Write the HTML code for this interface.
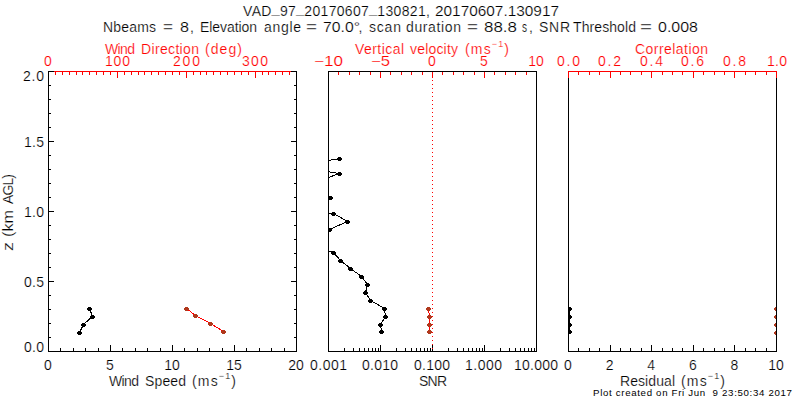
<!DOCTYPE html><html><head><meta charset="utf-8"><style>html,body{margin:0;padding:0;background:#fff;overflow:hidden}svg{display:block}text{font-family:"Liberation Sans",sans-serif;stroke:#fff;stroke-width:0.2px}</style></head><body><svg width="800" height="400" viewBox="0 0 800 400"><rect width="800" height="400" fill="#fff"/>
<text x="243" y="16" font-size="14" fill="#000" textLength="187.00" lengthAdjust="spacing">VAD<tspan dy="-3">_</tspan><tspan dy="3">97</tspan><tspan dy="-3">_</tspan><tspan dy="3">20170607</tspan><tspan dy="-3">_</tspan><tspan dy="3">130821,</tspan></text>
<text x="435" y="16" font-size="14" fill="#000" textLength="124.00" lengthAdjust="spacingAndGlyphs">20170607.130917</text>
<text x="190" y="32" font-size="14" text-anchor="start" fill="#000">,</text>
<text x="358.5" y="32" font-size="14" text-anchor="start" fill="#000">,</text>
<text x="529" y="32" font-size="14" text-anchor="start" fill="#000">,</text>
<text x="103" y="32" font-size="14" fill="#000" textLength="53.00" lengthAdjust="spacing">Nbeams</text>
<text x="163" y="32" font-size="14" fill="#000" textLength="10.00" lengthAdjust="spacingAndGlyphs">=</text>
<text x="180" y="32" font-size="14" fill="#000" textLength="9.00" lengthAdjust="spacingAndGlyphs">8</text>
<text x="200" y="32" font-size="14" fill="#000" textLength="57.00" lengthAdjust="spacing">Elevation</text>
<text x="264" y="32" font-size="14" fill="#000" textLength="37.00" lengthAdjust="spacing">angle</text>
<text x="306" y="32" font-size="14" fill="#000" textLength="11.00" lengthAdjust="spacingAndGlyphs">=</text>
<text x="323" y="32" font-size="14" fill="#000" textLength="37.00" lengthAdjust="spacingAndGlyphs">70.0°</text>
<text x="369" y="32" font-size="14" fill="#000" textLength="32.00" lengthAdjust="spacing">scan</text>
<text x="406" y="32" font-size="14" fill="#000" textLength="55.00" lengthAdjust="spacing">duration</text>
<text x="467" y="32" font-size="14" fill="#000" textLength="11.00" lengthAdjust="spacingAndGlyphs">=</text>
<text x="484" y="32" font-size="14" fill="#000" textLength="33.00" lengthAdjust="spacingAndGlyphs">88.8</text>
<text x="522" y="32" font-size="14" fill="#000" textLength="5.00" lengthAdjust="spacingAndGlyphs">s</text>
<text x="539" y="32" font-size="14" fill="#000" textLength="31.00" lengthAdjust="spacing">SNR</text>
<text x="573" y="32" font-size="14" fill="#000" textLength="63.00" lengthAdjust="spacing">Threshold</text>
<text x="640" y="32" font-size="14" fill="#000" textLength="12.00" lengthAdjust="spacingAndGlyphs">=</text>
<text x="658" y="32" font-size="14" fill="#000" textLength="40.00" lengthAdjust="spacingAndGlyphs">0.008</text>
<rect x="48" y="71" width="249" height="1" fill="#000"/>
<rect x="48" y="351" width="249" height="1" fill="#000"/>
<rect x="48" y="71" width="1" height="281" fill="#000"/>
<rect x="296" y="71" width="1" height="281" fill="#000"/>
<rect x="54" y="71" width="237" height="1" fill="#ff0000"/>
<rect x="55" y="71" width="1" height="4" fill="#ff0000"/>
<rect x="62" y="71" width="1" height="4" fill="#ff0000"/>
<rect x="69" y="71" width="1" height="4" fill="#ff0000"/>
<rect x="76" y="71" width="1" height="4" fill="#ff0000"/>
<rect x="82" y="71" width="1" height="4" fill="#ff0000"/>
<rect x="89" y="71" width="1" height="4" fill="#ff0000"/>
<rect x="96" y="71" width="1" height="4" fill="#ff0000"/>
<rect x="103" y="71" width="1" height="4" fill="#ff0000"/>
<rect x="110" y="71" width="1" height="4" fill="#ff0000"/>
<rect x="117" y="71" width="1" height="7" fill="#ff0000"/>
<rect x="124" y="71" width="1" height="4" fill="#ff0000"/>
<rect x="131" y="71" width="1" height="4" fill="#ff0000"/>
<rect x="138" y="71" width="1" height="4" fill="#ff0000"/>
<rect x="144" y="71" width="1" height="4" fill="#ff0000"/>
<rect x="151" y="71" width="1" height="4" fill="#ff0000"/>
<rect x="158" y="71" width="1" height="4" fill="#ff0000"/>
<rect x="165" y="71" width="1" height="4" fill="#ff0000"/>
<rect x="172" y="71" width="1" height="4" fill="#ff0000"/>
<rect x="179" y="71" width="1" height="4" fill="#ff0000"/>
<rect x="186" y="71" width="1" height="7" fill="#ff0000"/>
<rect x="193" y="71" width="1" height="4" fill="#ff0000"/>
<rect x="200" y="71" width="1" height="4" fill="#ff0000"/>
<rect x="206" y="71" width="1" height="4" fill="#ff0000"/>
<rect x="213" y="71" width="1" height="4" fill="#ff0000"/>
<rect x="220" y="71" width="1" height="4" fill="#ff0000"/>
<rect x="227" y="71" width="1" height="4" fill="#ff0000"/>
<rect x="234" y="71" width="1" height="4" fill="#ff0000"/>
<rect x="241" y="71" width="1" height="4" fill="#ff0000"/>
<rect x="248" y="71" width="1" height="4" fill="#ff0000"/>
<rect x="255" y="71" width="1" height="7" fill="#ff0000"/>
<rect x="262" y="71" width="1" height="4" fill="#ff0000"/>
<rect x="268" y="71" width="1" height="4" fill="#ff0000"/>
<rect x="275" y="71" width="1" height="4" fill="#ff0000"/>
<rect x="282" y="71" width="1" height="4" fill="#ff0000"/>
<rect x="289" y="71" width="1" height="4" fill="#ff0000"/>
<rect x="48" y="337" width="3" height="1" fill="#000"/>
<rect x="294" y="337" width="3" height="1" fill="#000"/>
<rect x="48" y="323" width="3" height="1" fill="#000"/>
<rect x="294" y="323" width="3" height="1" fill="#000"/>
<rect x="48" y="309" width="3" height="1" fill="#000"/>
<rect x="294" y="309" width="3" height="1" fill="#000"/>
<rect x="48" y="295" width="3" height="1" fill="#000"/>
<rect x="294" y="295" width="3" height="1" fill="#000"/>
<rect x="48" y="281" width="6" height="1" fill="#000"/>
<rect x="291" y="281" width="6" height="1" fill="#000"/>
<rect x="48" y="267" width="3" height="1" fill="#000"/>
<rect x="294" y="267" width="3" height="1" fill="#000"/>
<rect x="48" y="253" width="3" height="1" fill="#000"/>
<rect x="294" y="253" width="3" height="1" fill="#000"/>
<rect x="48" y="239" width="3" height="1" fill="#000"/>
<rect x="294" y="239" width="3" height="1" fill="#000"/>
<rect x="48" y="225" width="3" height="1" fill="#000"/>
<rect x="294" y="225" width="3" height="1" fill="#000"/>
<rect x="48" y="211" width="6" height="1" fill="#000"/>
<rect x="291" y="211" width="6" height="1" fill="#000"/>
<rect x="48" y="197" width="3" height="1" fill="#000"/>
<rect x="294" y="197" width="3" height="1" fill="#000"/>
<rect x="48" y="183" width="3" height="1" fill="#000"/>
<rect x="294" y="183" width="3" height="1" fill="#000"/>
<rect x="48" y="169" width="3" height="1" fill="#000"/>
<rect x="294" y="169" width="3" height="1" fill="#000"/>
<rect x="48" y="155" width="3" height="1" fill="#000"/>
<rect x="294" y="155" width="3" height="1" fill="#000"/>
<rect x="48" y="141" width="6" height="1" fill="#000"/>
<rect x="291" y="141" width="6" height="1" fill="#000"/>
<rect x="48" y="127" width="3" height="1" fill="#000"/>
<rect x="294" y="127" width="3" height="1" fill="#000"/>
<rect x="48" y="113" width="3" height="1" fill="#000"/>
<rect x="294" y="113" width="3" height="1" fill="#000"/>
<rect x="48" y="99" width="3" height="1" fill="#000"/>
<rect x="294" y="99" width="3" height="1" fill="#000"/>
<rect x="48" y="85" width="3" height="1" fill="#000"/>
<rect x="294" y="85" width="3" height="1" fill="#000"/>
<rect x="60" y="348" width="1" height="4" fill="#000"/>
<rect x="73" y="348" width="1" height="4" fill="#000"/>
<rect x="85" y="348" width="1" height="4" fill="#000"/>
<rect x="98" y="348" width="1" height="4" fill="#000"/>
<rect x="110" y="345" width="1" height="7" fill="#000"/>
<rect x="122" y="348" width="1" height="4" fill="#000"/>
<rect x="135" y="348" width="1" height="4" fill="#000"/>
<rect x="147" y="348" width="1" height="4" fill="#000"/>
<rect x="160" y="348" width="1" height="4" fill="#000"/>
<rect x="172" y="345" width="1" height="7" fill="#000"/>
<rect x="184" y="348" width="1" height="4" fill="#000"/>
<rect x="197" y="348" width="1" height="4" fill="#000"/>
<rect x="209" y="348" width="1" height="4" fill="#000"/>
<rect x="222" y="348" width="1" height="4" fill="#000"/>
<rect x="234" y="345" width="1" height="7" fill="#000"/>
<rect x="246" y="348" width="1" height="4" fill="#000"/>
<rect x="259" y="348" width="1" height="4" fill="#000"/>
<rect x="271" y="348" width="1" height="4" fill="#000"/>
<rect x="284" y="348" width="1" height="4" fill="#000"/>
<text x="48" y="66" font-size="14" text-anchor="middle" fill="#ff0000">0</text>
<text x="105" y="66" font-size="14" fill="#ff0000" textLength="25.00" lengthAdjust="spacing">100</text>
<text x="173" y="66" font-size="14" fill="#ff0000" textLength="27.00" lengthAdjust="spacing">200</text>
<text x="242" y="66" font-size="14" fill="#ff0000" textLength="26.00" lengthAdjust="spacing">300</text>
<text x="105" y="54" font-size="14" fill="#ff0000" textLength="30.00" lengthAdjust="spacing">Wind</text>
<text x="141" y="54" font-size="14" fill="#ff0000" textLength="58.00" lengthAdjust="spacing">Direction</text>
<text x="205" y="54" font-size="14" fill="#ff0000" textLength="37.00" lengthAdjust="spacing">(deg)</text>
<text x="48" y="370" font-size="14" text-anchor="middle" fill="#000">0</text>
<text x="110" y="370" font-size="14" text-anchor="middle" fill="#000">5</text>
<text x="172" y="370" font-size="14" text-anchor="middle" fill="#000">10</text>
<text x="234" y="370" font-size="14" text-anchor="middle" fill="#000">15</text>
<text x="296" y="370" font-size="14" text-anchor="middle" fill="#000">20</text>
<text x="109" y="386" font-size="14" fill="#000" textLength="30.00" lengthAdjust="spacing">Wind</text>
<text x="145" y="386" font-size="14" fill="#000" textLength="41.00" lengthAdjust="spacing">Speed</text>
<text x="192" y="386" font-size="14" fill="#000" textLength="44.00" lengthAdjust="spacing">(ms<tspan font-size="9" dy="-7">−1</tspan><tspan dy="7">)</tspan></text>
<text x="24" y="352" font-size="14" fill="#000" textLength="20.00" lengthAdjust="spacing">0.0</text>
<text x="24" y="287" font-size="14" fill="#000" textLength="20.00" lengthAdjust="spacing">0.5</text>
<text x="24" y="217" font-size="14" fill="#000" textLength="20.00" lengthAdjust="spacing">1.0</text>
<text x="24" y="147" font-size="14" fill="#000" textLength="20.00" lengthAdjust="spacing">1.5</text>
<text x="23" y="81" font-size="14" fill="#000" textLength="21.00" lengthAdjust="spacing">2.0</text>
<text transform="translate(13,251) rotate(-90)" font-size="14" textLength="9.00" lengthAdjust="spacingAndGlyphs">z</text>
<text transform="translate(13,237) rotate(-90)" font-size="14" textLength="27.00" lengthAdjust="spacingAndGlyphs">(km</text>
<text transform="translate(13,204) rotate(-90)" font-size="14" textLength="30.00" lengthAdjust="spacing">AGL)</text>
<rect x="328" y="71" width="209" height="1" fill="#000"/>
<rect x="328" y="351" width="209" height="1" fill="#000"/>
<rect x="328" y="71" width="1" height="281" fill="#000"/>
<rect x="536" y="71" width="1" height="281" fill="#000"/>
<rect x="338" y="72" width="1" height="3" fill="#ff0000"/>
<rect x="349" y="72" width="1" height="3" fill="#ff0000"/>
<rect x="359" y="72" width="1" height="3" fill="#ff0000"/>
<rect x="370" y="72" width="1" height="3" fill="#ff0000"/>
<rect x="380" y="72" width="1" height="6" fill="#ff0000"/>
<rect x="390" y="72" width="1" height="3" fill="#ff0000"/>
<rect x="401" y="72" width="1" height="3" fill="#ff0000"/>
<rect x="411" y="72" width="1" height="3" fill="#ff0000"/>
<rect x="422" y="72" width="1" height="3" fill="#ff0000"/>
<rect x="432" y="72" width="1" height="6" fill="#ff0000"/>
<rect x="442" y="72" width="1" height="3" fill="#ff0000"/>
<rect x="453" y="72" width="1" height="3" fill="#ff0000"/>
<rect x="463" y="72" width="1" height="3" fill="#ff0000"/>
<rect x="474" y="72" width="1" height="3" fill="#ff0000"/>
<rect x="484" y="72" width="1" height="6" fill="#ff0000"/>
<rect x="494" y="72" width="1" height="3" fill="#ff0000"/>
<rect x="505" y="72" width="1" height="3" fill="#ff0000"/>
<rect x="515" y="72" width="1" height="3" fill="#ff0000"/>
<rect x="526" y="72" width="1" height="3" fill="#ff0000"/>
<rect x="344" y="348" width="1" height="4" fill="#000"/>
<rect x="353" y="348" width="1" height="4" fill="#000"/>
<rect x="359" y="348" width="1" height="4" fill="#000"/>
<rect x="364" y="348" width="1" height="4" fill="#000"/>
<rect x="368" y="348" width="1" height="4" fill="#000"/>
<rect x="372" y="348" width="1" height="4" fill="#000"/>
<rect x="375" y="348" width="1" height="4" fill="#000"/>
<rect x="378" y="348" width="1" height="4" fill="#000"/>
<rect x="380" y="345" width="1" height="7" fill="#000"/>
<rect x="396" y="348" width="1" height="4" fill="#000"/>
<rect x="405" y="348" width="1" height="4" fill="#000"/>
<rect x="411" y="348" width="1" height="4" fill="#000"/>
<rect x="416" y="348" width="1" height="4" fill="#000"/>
<rect x="420" y="348" width="1" height="4" fill="#000"/>
<rect x="424" y="348" width="1" height="4" fill="#000"/>
<rect x="427" y="348" width="1" height="4" fill="#000"/>
<rect x="430" y="348" width="1" height="4" fill="#000"/>
<rect x="432" y="345" width="1" height="7" fill="#000"/>
<rect x="448" y="348" width="1" height="4" fill="#000"/>
<rect x="457" y="348" width="1" height="4" fill="#000"/>
<rect x="463" y="348" width="1" height="4" fill="#000"/>
<rect x="468" y="348" width="1" height="4" fill="#000"/>
<rect x="472" y="348" width="1" height="4" fill="#000"/>
<rect x="476" y="348" width="1" height="4" fill="#000"/>
<rect x="479" y="348" width="1" height="4" fill="#000"/>
<rect x="482" y="348" width="1" height="4" fill="#000"/>
<rect x="484" y="345" width="1" height="7" fill="#000"/>
<rect x="500" y="348" width="1" height="4" fill="#000"/>
<rect x="509" y="348" width="1" height="4" fill="#000"/>
<rect x="515" y="348" width="1" height="4" fill="#000"/>
<rect x="520" y="348" width="1" height="4" fill="#000"/>
<rect x="524" y="348" width="1" height="4" fill="#000"/>
<rect x="528" y="348" width="1" height="4" fill="#000"/>
<rect x="531" y="348" width="1" height="4" fill="#000"/>
<rect x="534" y="348" width="1" height="4" fill="#000"/>
<text x="314" y="66" font-size="14" fill="#ff0000" textLength="29.00" lengthAdjust="spacingAndGlyphs">−10</text>
<text x="371" y="66" font-size="14" fill="#ff0000" textLength="19.00" lengthAdjust="spacingAndGlyphs">−5</text>
<text x="432" y="66" font-size="14" text-anchor="middle" fill="#ff0000">0</text>
<text x="484" y="66" font-size="14" text-anchor="middle" fill="#ff0000">5</text>
<text x="536" y="66" font-size="14" text-anchor="middle" fill="#ff0000">10</text>
<text x="355" y="54" font-size="14" fill="#ff0000" textLength="49.00" lengthAdjust="spacing">Vertical</text>
<text x="410" y="54" font-size="14" fill="#ff0000" textLength="48.00" lengthAdjust="spacing">velocity</text>
<text x="465" y="54" font-size="14" fill="#ff0000" textLength="44.00" lengthAdjust="spacing">(ms<tspan font-size="9" dy="-7">−1</tspan><tspan dy="7">)</tspan></text>
<text x="310" y="370" font-size="14" fill="#000" textLength="37.00" lengthAdjust="spacing">0.001</text>
<text x="362" y="370" font-size="14" fill="#000" textLength="36.00" lengthAdjust="spacing">0.010</text>
<text x="414" y="370" font-size="14" fill="#000" textLength="36.00" lengthAdjust="spacing">0.100</text>
<text x="465" y="370" font-size="14" fill="#000" textLength="37.00" lengthAdjust="spacing">1.000</text>
<text x="514" y="370" font-size="14" fill="#000" textLength="44.00" lengthAdjust="spacing">10.000</text>
<text x="419" y="386" font-size="14" fill="#000" textLength="28.00" lengthAdjust="spacing">SNR</text>
<rect x="432" y="72" width="1" height="1" fill="#ff0000"/>
<rect x="432" y="76" width="1" height="1" fill="#ff0000"/>
<rect x="432" y="80" width="1" height="1" fill="#ff0000"/>
<rect x="432" y="84" width="1" height="1" fill="#ff0000"/>
<rect x="432" y="88" width="1" height="1" fill="#ff0000"/>
<rect x="432" y="92" width="1" height="1" fill="#ff0000"/>
<rect x="432" y="96" width="1" height="1" fill="#ff0000"/>
<rect x="432" y="100" width="1" height="1" fill="#ff0000"/>
<rect x="432" y="104" width="1" height="1" fill="#ff0000"/>
<rect x="432" y="108" width="1" height="1" fill="#ff0000"/>
<rect x="432" y="112" width="1" height="1" fill="#ff0000"/>
<rect x="432" y="116" width="1" height="1" fill="#ff0000"/>
<rect x="432" y="120" width="1" height="1" fill="#ff0000"/>
<rect x="432" y="124" width="1" height="1" fill="#ff0000"/>
<rect x="432" y="128" width="1" height="1" fill="#ff0000"/>
<rect x="432" y="132" width="1" height="1" fill="#ff0000"/>
<rect x="432" y="136" width="1" height="1" fill="#ff0000"/>
<rect x="432" y="140" width="1" height="1" fill="#ff0000"/>
<rect x="432" y="144" width="1" height="1" fill="#ff0000"/>
<rect x="432" y="148" width="1" height="1" fill="#ff0000"/>
<rect x="432" y="152" width="1" height="1" fill="#ff0000"/>
<rect x="432" y="156" width="1" height="1" fill="#ff0000"/>
<rect x="432" y="160" width="1" height="1" fill="#ff0000"/>
<rect x="432" y="164" width="1" height="1" fill="#ff0000"/>
<rect x="432" y="168" width="1" height="1" fill="#ff0000"/>
<rect x="432" y="172" width="1" height="1" fill="#ff0000"/>
<rect x="432" y="176" width="1" height="1" fill="#ff0000"/>
<rect x="432" y="180" width="1" height="1" fill="#ff0000"/>
<rect x="432" y="184" width="1" height="1" fill="#ff0000"/>
<rect x="432" y="188" width="1" height="1" fill="#ff0000"/>
<rect x="432" y="192" width="1" height="1" fill="#ff0000"/>
<rect x="432" y="196" width="1" height="1" fill="#ff0000"/>
<rect x="432" y="200" width="1" height="1" fill="#ff0000"/>
<rect x="432" y="204" width="1" height="1" fill="#ff0000"/>
<rect x="432" y="208" width="1" height="1" fill="#ff0000"/>
<rect x="432" y="212" width="1" height="1" fill="#ff0000"/>
<rect x="432" y="216" width="1" height="1" fill="#ff0000"/>
<rect x="432" y="220" width="1" height="1" fill="#ff0000"/>
<rect x="432" y="224" width="1" height="1" fill="#ff0000"/>
<rect x="432" y="228" width="1" height="1" fill="#ff0000"/>
<rect x="432" y="232" width="1" height="1" fill="#ff0000"/>
<rect x="432" y="236" width="1" height="1" fill="#ff0000"/>
<rect x="432" y="240" width="1" height="1" fill="#ff0000"/>
<rect x="432" y="244" width="1" height="1" fill="#ff0000"/>
<rect x="432" y="248" width="1" height="1" fill="#ff0000"/>
<rect x="432" y="252" width="1" height="1" fill="#ff0000"/>
<rect x="432" y="256" width="1" height="1" fill="#ff0000"/>
<rect x="432" y="260" width="1" height="1" fill="#ff0000"/>
<rect x="432" y="264" width="1" height="1" fill="#ff0000"/>
<rect x="432" y="268" width="1" height="1" fill="#ff0000"/>
<rect x="432" y="272" width="1" height="1" fill="#ff0000"/>
<rect x="432" y="276" width="1" height="1" fill="#ff0000"/>
<rect x="432" y="280" width="1" height="1" fill="#ff0000"/>
<rect x="432" y="284" width="1" height="1" fill="#ff0000"/>
<rect x="432" y="288" width="1" height="1" fill="#ff0000"/>
<rect x="432" y="292" width="1" height="1" fill="#ff0000"/>
<rect x="432" y="296" width="1" height="1" fill="#ff0000"/>
<rect x="432" y="300" width="1" height="1" fill="#ff0000"/>
<rect x="432" y="304" width="1" height="1" fill="#ff0000"/>
<rect x="432" y="308" width="1" height="1" fill="#ff0000"/>
<rect x="432" y="312" width="1" height="1" fill="#ff0000"/>
<rect x="432" y="316" width="1" height="1" fill="#ff0000"/>
<rect x="432" y="320" width="1" height="1" fill="#ff0000"/>
<rect x="432" y="324" width="1" height="1" fill="#ff0000"/>
<rect x="432" y="328" width="1" height="1" fill="#ff0000"/>
<rect x="432" y="332" width="1" height="1" fill="#ff0000"/>
<rect x="432" y="336" width="1" height="1" fill="#ff0000"/>
<rect x="432" y="340" width="1" height="1" fill="#ff0000"/>
<rect x="432" y="344" width="1" height="1" fill="#ff0000"/>
<rect x="432" y="348" width="1" height="1" fill="#ff0000"/>
<rect x="568" y="71" width="209" height="1" fill="#000"/>
<rect x="568" y="351" width="209" height="1" fill="#000"/>
<rect x="568" y="71" width="1" height="281" fill="#000"/>
<rect x="776" y="71" width="1" height="281" fill="#000"/>
<rect x="568" y="71" width="209" height="1" fill="#ff0000"/>
<rect x="568" y="71" width="1" height="7" fill="#ff0000"/>
<rect x="578" y="71" width="1" height="4" fill="#ff0000"/>
<rect x="589" y="71" width="1" height="4" fill="#ff0000"/>
<rect x="599" y="71" width="1" height="4" fill="#ff0000"/>
<rect x="610" y="71" width="1" height="7" fill="#ff0000"/>
<rect x="620" y="71" width="1" height="4" fill="#ff0000"/>
<rect x="630" y="71" width="1" height="4" fill="#ff0000"/>
<rect x="641" y="71" width="1" height="4" fill="#ff0000"/>
<rect x="651" y="71" width="1" height="7" fill="#ff0000"/>
<rect x="662" y="71" width="1" height="4" fill="#ff0000"/>
<rect x="672" y="71" width="1" height="4" fill="#ff0000"/>
<rect x="682" y="71" width="1" height="4" fill="#ff0000"/>
<rect x="693" y="71" width="1" height="7" fill="#ff0000"/>
<rect x="703" y="71" width="1" height="4" fill="#ff0000"/>
<rect x="714" y="71" width="1" height="4" fill="#ff0000"/>
<rect x="724" y="71" width="1" height="4" fill="#ff0000"/>
<rect x="734" y="71" width="1" height="7" fill="#ff0000"/>
<rect x="745" y="71" width="1" height="4" fill="#ff0000"/>
<rect x="755" y="71" width="1" height="4" fill="#ff0000"/>
<rect x="766" y="71" width="1" height="4" fill="#ff0000"/>
<rect x="776" y="71" width="1" height="7" fill="#ff0000"/>
<rect x="578" y="348" width="1" height="4" fill="#000"/>
<rect x="589" y="348" width="1" height="4" fill="#000"/>
<rect x="599" y="348" width="1" height="4" fill="#000"/>
<rect x="610" y="345" width="1" height="7" fill="#000"/>
<rect x="620" y="348" width="1" height="4" fill="#000"/>
<rect x="630" y="348" width="1" height="4" fill="#000"/>
<rect x="641" y="348" width="1" height="4" fill="#000"/>
<rect x="651" y="345" width="1" height="7" fill="#000"/>
<rect x="662" y="348" width="1" height="4" fill="#000"/>
<rect x="672" y="348" width="1" height="4" fill="#000"/>
<rect x="682" y="348" width="1" height="4" fill="#000"/>
<rect x="693" y="345" width="1" height="7" fill="#000"/>
<rect x="703" y="348" width="1" height="4" fill="#000"/>
<rect x="714" y="348" width="1" height="4" fill="#000"/>
<rect x="724" y="348" width="1" height="4" fill="#000"/>
<rect x="734" y="345" width="1" height="7" fill="#000"/>
<rect x="745" y="348" width="1" height="4" fill="#000"/>
<rect x="755" y="348" width="1" height="4" fill="#000"/>
<rect x="766" y="348" width="1" height="4" fill="#000"/>
<text x="557" y="66" font-size="14" fill="#ff0000" textLength="23.00" lengthAdjust="spacing">0.0</text>
<text x="598" y="66" font-size="14" fill="#ff0000" textLength="23.00" lengthAdjust="spacing">0.2</text>
<text x="640" y="66" font-size="14" fill="#ff0000" textLength="23.00" lengthAdjust="spacing">0.4</text>
<text x="681" y="66" font-size="14" fill="#ff0000" textLength="23.00" lengthAdjust="spacing">0.6</text>
<text x="723" y="66" font-size="14" fill="#ff0000" textLength="23.00" lengthAdjust="spacing">0.8</text>
<text x="767" y="66" font-size="14" fill="#ff0000" textLength="20.00" lengthAdjust="spacing">1.0</text>
<text x="635" y="54" font-size="14" fill="#ff0000" textLength="73.00" lengthAdjust="spacing">Correlation</text>
<text x="568.0" y="370" font-size="14" text-anchor="middle" fill="#000">0</text>
<text x="609.6" y="370" font-size="14" text-anchor="middle" fill="#000">2</text>
<text x="651.2" y="370" font-size="14" text-anchor="middle" fill="#000">4</text>
<text x="692.8" y="370" font-size="14" text-anchor="middle" fill="#000">6</text>
<text x="734.4" y="370" font-size="14" text-anchor="middle" fill="#000">8</text>
<text x="776.0" y="370" font-size="14" text-anchor="middle" fill="#000">10</text>
<text x="620" y="386" font-size="14" fill="#000" textLength="55.00" lengthAdjust="spacing">Residual</text>
<text x="681" y="386" font-size="14" fill="#000" textLength="44.00" lengthAdjust="spacing">(ms<tspan font-size="9" dy="-7">−1</tspan><tspan dy="7">)</tspan></text>
<text x="593" y="396" font-size="9.7" fill="#000" textLength="199.00" lengthAdjust="spacing" style="stroke-width:0">Plot created on Fri Jun&#160;&#160;9 23:50:34 2017</text>
<polyline points="89.5,308.5 92.5,316.5 83.5,324.5 79.5,332.5" fill="none" stroke="#000" stroke-width="1" shape-rendering="crispEdges"/>
<rect x="88" y="307" width="3" height="1" fill="#000"/>
<rect x="87" y="308" width="5" height="2" fill="#000"/>
<rect x="88" y="310" width="3" height="1" fill="#000"/>
<rect x="91" y="315" width="3" height="1" fill="#000"/>
<rect x="90" y="316" width="5" height="2" fill="#000"/>
<rect x="91" y="318" width="3" height="1" fill="#000"/>
<rect x="82" y="323" width="3" height="1" fill="#000"/>
<rect x="81" y="324" width="5" height="2" fill="#000"/>
<rect x="82" y="326" width="3" height="1" fill="#000"/>
<rect x="78" y="331" width="3" height="1" fill="#000"/>
<rect x="77" y="332" width="5" height="2" fill="#000"/>
<rect x="78" y="334" width="3" height="1" fill="#000"/>
<polyline points="186.5,308.5 195.5,315.5 210.5,323.5 223.5,331.5" fill="none" stroke="#ff0000" stroke-width="1" shape-rendering="crispEdges"/>
<rect x="185" y="307" width="3" height="1" fill="#b0381c"/>
<rect x="184" y="308" width="5" height="2" fill="#b0381c"/>
<rect x="185" y="310" width="3" height="1" fill="#b0381c"/>
<rect x="194" y="314" width="3" height="1" fill="#b0381c"/>
<rect x="193" y="315" width="5" height="2" fill="#b0381c"/>
<rect x="194" y="317" width="3" height="1" fill="#b0381c"/>
<rect x="209" y="322" width="3" height="1" fill="#b0381c"/>
<rect x="208" y="323" width="5" height="2" fill="#b0381c"/>
<rect x="209" y="325" width="3" height="1" fill="#b0381c"/>
<rect x="222" y="330" width="3" height="1" fill="#b0381c"/>
<rect x="221" y="331" width="5" height="2" fill="#b0381c"/>
<rect x="222" y="333" width="3" height="1" fill="#b0381c"/>
<defs><clipPath id="c2"><rect x="328" y="71" width="209" height="281"/></clipPath><clipPath id="c3"><rect x="568" y="71" width="209" height="281"/></clipPath></defs>
<g clip-path="url(#c2)">
<polyline points="339.5,158.5 295.5,166.5 339.5,173.5 317.5,181.5 260.5,189.5 330.5,197.5 260.5,205.5 333.5,213.5 347.5,221.5 329.5,229.5 260.5,237.5 313.5,245.5 333.5,252.5 340.5,260.5 350.5,268.5 361.5,276.5 367.5,284.5 365.5,292.5 370.5,300.5 384.5,308.5 385.5,316.5 380.5,324.5 381.5,331.5" fill="none" stroke="#000" stroke-width="1" shape-rendering="crispEdges"/>
<rect x="338" y="157" width="3" height="1" fill="#000"/>
<rect x="337" y="158" width="5" height="2" fill="#000"/>
<rect x="338" y="160" width="3" height="1" fill="#000"/>
<rect x="294" y="165" width="3" height="1" fill="#000"/>
<rect x="293" y="166" width="5" height="2" fill="#000"/>
<rect x="294" y="168" width="3" height="1" fill="#000"/>
<rect x="338" y="172" width="3" height="1" fill="#000"/>
<rect x="337" y="173" width="5" height="2" fill="#000"/>
<rect x="338" y="175" width="3" height="1" fill="#000"/>
<rect x="316" y="180" width="3" height="1" fill="#000"/>
<rect x="315" y="181" width="5" height="2" fill="#000"/>
<rect x="316" y="183" width="3" height="1" fill="#000"/>
<rect x="259" y="188" width="3" height="1" fill="#000"/>
<rect x="258" y="189" width="5" height="2" fill="#000"/>
<rect x="259" y="191" width="3" height="1" fill="#000"/>
<rect x="329" y="196" width="3" height="1" fill="#000"/>
<rect x="328" y="197" width="5" height="2" fill="#000"/>
<rect x="329" y="199" width="3" height="1" fill="#000"/>
<rect x="259" y="204" width="3" height="1" fill="#000"/>
<rect x="258" y="205" width="5" height="2" fill="#000"/>
<rect x="259" y="207" width="3" height="1" fill="#000"/>
<rect x="332" y="212" width="3" height="1" fill="#000"/>
<rect x="331" y="213" width="5" height="2" fill="#000"/>
<rect x="332" y="215" width="3" height="1" fill="#000"/>
<rect x="346" y="220" width="3" height="1" fill="#000"/>
<rect x="345" y="221" width="5" height="2" fill="#000"/>
<rect x="346" y="223" width="3" height="1" fill="#000"/>
<rect x="328" y="228" width="3" height="1" fill="#000"/>
<rect x="327" y="229" width="5" height="2" fill="#000"/>
<rect x="328" y="231" width="3" height="1" fill="#000"/>
<rect x="259" y="236" width="3" height="1" fill="#000"/>
<rect x="258" y="237" width="5" height="2" fill="#000"/>
<rect x="259" y="239" width="3" height="1" fill="#000"/>
<rect x="312" y="244" width="3" height="1" fill="#000"/>
<rect x="311" y="245" width="5" height="2" fill="#000"/>
<rect x="312" y="247" width="3" height="1" fill="#000"/>
<rect x="332" y="251" width="3" height="1" fill="#000"/>
<rect x="331" y="252" width="5" height="2" fill="#000"/>
<rect x="332" y="254" width="3" height="1" fill="#000"/>
<rect x="339" y="259" width="3" height="1" fill="#000"/>
<rect x="338" y="260" width="5" height="2" fill="#000"/>
<rect x="339" y="262" width="3" height="1" fill="#000"/>
<rect x="349" y="267" width="3" height="1" fill="#000"/>
<rect x="348" y="268" width="5" height="2" fill="#000"/>
<rect x="349" y="270" width="3" height="1" fill="#000"/>
<rect x="360" y="275" width="3" height="1" fill="#000"/>
<rect x="359" y="276" width="5" height="2" fill="#000"/>
<rect x="360" y="278" width="3" height="1" fill="#000"/>
<rect x="366" y="283" width="3" height="1" fill="#000"/>
<rect x="365" y="284" width="5" height="2" fill="#000"/>
<rect x="366" y="286" width="3" height="1" fill="#000"/>
<rect x="364" y="291" width="3" height="1" fill="#000"/>
<rect x="363" y="292" width="5" height="2" fill="#000"/>
<rect x="364" y="294" width="3" height="1" fill="#000"/>
<rect x="369" y="299" width="3" height="1" fill="#000"/>
<rect x="368" y="300" width="5" height="2" fill="#000"/>
<rect x="369" y="302" width="3" height="1" fill="#000"/>
<rect x="383" y="307" width="3" height="1" fill="#000"/>
<rect x="382" y="308" width="5" height="2" fill="#000"/>
<rect x="383" y="310" width="3" height="1" fill="#000"/>
<rect x="384" y="315" width="3" height="1" fill="#000"/>
<rect x="383" y="316" width="5" height="2" fill="#000"/>
<rect x="384" y="318" width="3" height="1" fill="#000"/>
<rect x="379" y="323" width="3" height="1" fill="#000"/>
<rect x="378" y="324" width="5" height="2" fill="#000"/>
<rect x="379" y="326" width="3" height="1" fill="#000"/>
<rect x="380" y="330" width="3" height="1" fill="#000"/>
<rect x="379" y="331" width="5" height="2" fill="#000"/>
<rect x="380" y="333" width="3" height="1" fill="#000"/>
<polyline points="428.5,308.5 429.5,316.5 429.5,324.5 429.5,331.5" fill="none" stroke="#ff0000" stroke-width="1" shape-rendering="crispEdges"/>
<rect x="427" y="307" width="3" height="1" fill="#b0381c"/>
<rect x="426" y="308" width="5" height="2" fill="#b0381c"/>
<rect x="427" y="310" width="3" height="1" fill="#b0381c"/>
<rect x="428" y="315" width="3" height="1" fill="#b0381c"/>
<rect x="427" y="316" width="5" height="2" fill="#b0381c"/>
<rect x="428" y="318" width="3" height="1" fill="#b0381c"/>
<rect x="428" y="323" width="3" height="1" fill="#b0381c"/>
<rect x="427" y="324" width="5" height="2" fill="#b0381c"/>
<rect x="428" y="326" width="3" height="1" fill="#b0381c"/>
<rect x="428" y="330" width="3" height="1" fill="#b0381c"/>
<rect x="427" y="331" width="5" height="2" fill="#b0381c"/>
<rect x="428" y="333" width="3" height="1" fill="#b0381c"/>
</g>
<g clip-path="url(#c3)">
<polyline points="569.5,308.5 569.5,316.5 569.5,324.5 569.5,331.5" fill="none" stroke="#000" stroke-width="1" shape-rendering="crispEdges"/>
<rect x="568" y="307" width="3" height="1" fill="#000"/>
<rect x="567" y="308" width="5" height="2" fill="#000"/>
<rect x="568" y="310" width="3" height="1" fill="#000"/>
<rect x="568" y="315" width="3" height="1" fill="#000"/>
<rect x="567" y="316" width="5" height="2" fill="#000"/>
<rect x="568" y="318" width="3" height="1" fill="#000"/>
<rect x="568" y="323" width="3" height="1" fill="#000"/>
<rect x="567" y="324" width="5" height="2" fill="#000"/>
<rect x="568" y="326" width="3" height="1" fill="#000"/>
<rect x="568" y="330" width="3" height="1" fill="#000"/>
<rect x="567" y="331" width="5" height="2" fill="#000"/>
<rect x="568" y="333" width="3" height="1" fill="#000"/>
<polyline points="776.5,308.5 776.5,316.5 776.5,324.5 776.5,332.5" fill="none" stroke="#ff0000" stroke-width="1" shape-rendering="crispEdges"/>
<rect x="775" y="307" width="3" height="1" fill="#b0381c"/>
<rect x="774" y="308" width="5" height="2" fill="#b0381c"/>
<rect x="775" y="310" width="3" height="1" fill="#b0381c"/>
<rect x="775" y="315" width="3" height="1" fill="#b0381c"/>
<rect x="774" y="316" width="5" height="2" fill="#b0381c"/>
<rect x="775" y="318" width="3" height="1" fill="#b0381c"/>
<rect x="775" y="323" width="3" height="1" fill="#b0381c"/>
<rect x="774" y="324" width="5" height="2" fill="#b0381c"/>
<rect x="775" y="326" width="3" height="1" fill="#b0381c"/>
<rect x="775" y="331" width="3" height="1" fill="#b0381c"/>
<rect x="774" y="332" width="5" height="2" fill="#b0381c"/>
<rect x="775" y="334" width="3" height="1" fill="#b0381c"/>
</g>
<rect x="568" y="78" width="1" height="274" fill="#000"/>
<rect x="776" y="78" width="1" height="274" fill="#000"/>
</svg></body></html>
